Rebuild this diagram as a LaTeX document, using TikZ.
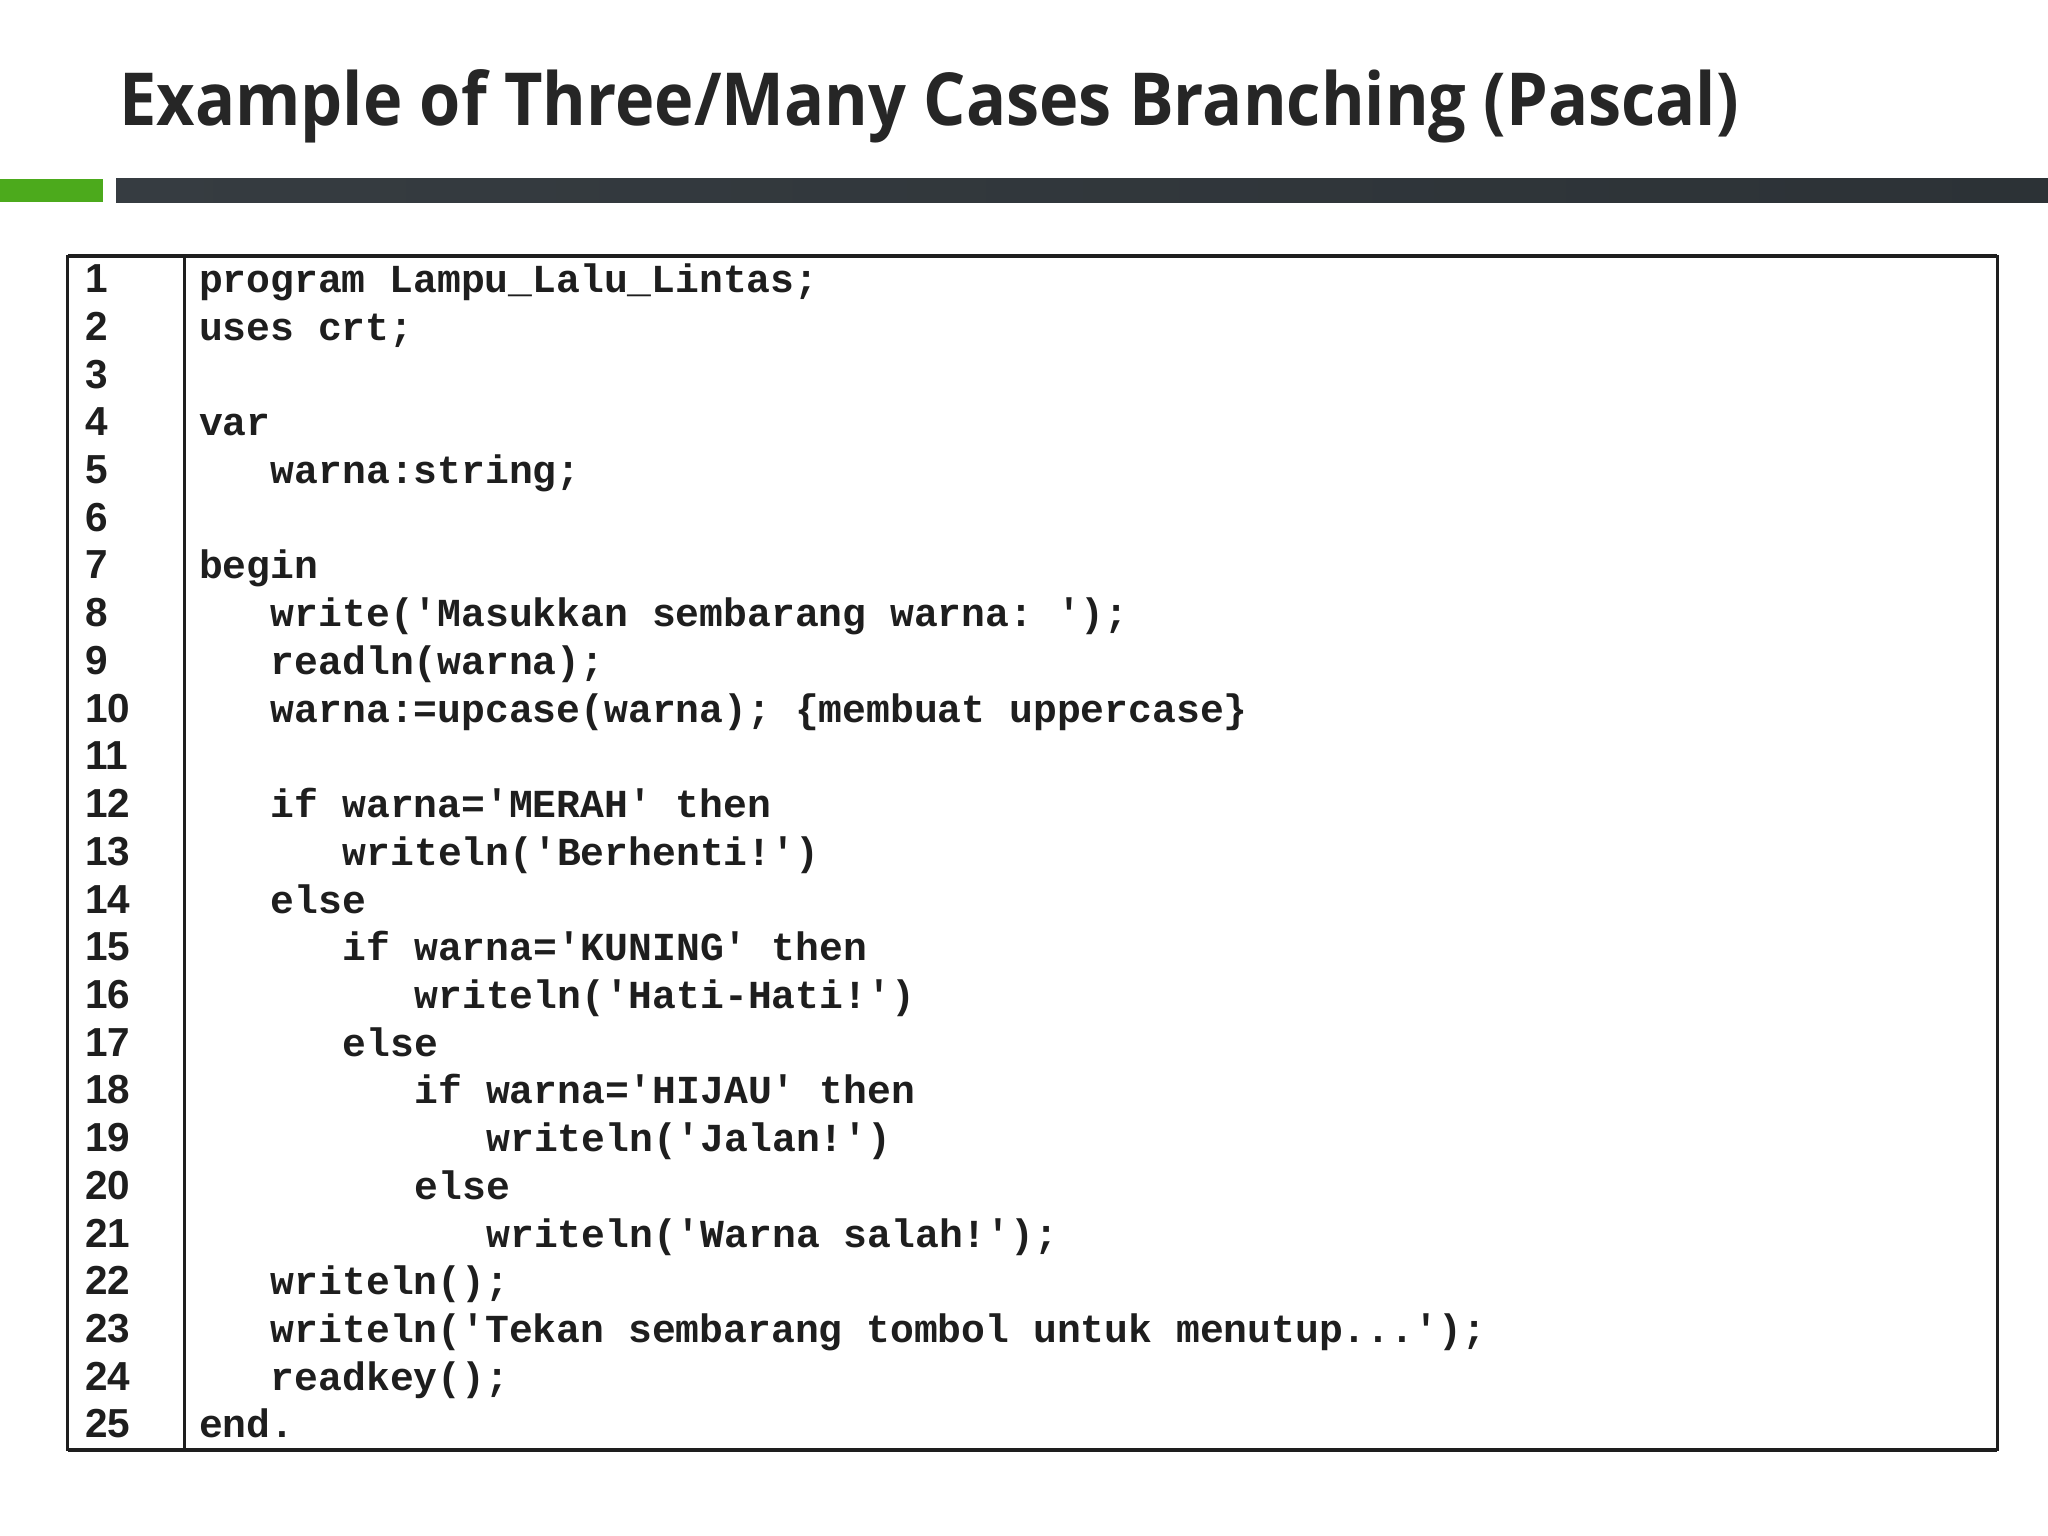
\documentclass[tikz,border=0pt]{standalone}
\usepackage{fontspec}
\setmonofont{Liberation Mono}[BoldFont={Liberation Mono Bold}]
\newfontfamily\titlefont{Open Sans}
\newfontfamily\numfont{Liberation Sans}[BoldFont={Liberation Sans Bold}]
\definecolor{titlegray}{HTML}{262626}
\definecolor{bargreen}{HTML}{4CAA1C}
\definecolor{bardark}{HTML}{363C41}
\definecolor{bardarkb}{HTML}{2C3236}
\definecolor{codeblack}{HTML}{1E1E1E}
\tikzset{
  codeline/.style={anchor=base west, inner sep=0pt, font=\ttfamily\bfseries\fontsize{15.2pt}{18pt}\selectfont, text=codeblack},
  numline/.style={anchor=base west, inner sep=0pt, font=\numfont\bfseries\fontsize{15.5pt}{18pt}\selectfont, text=codeblack},
  frameline/.style={draw=codeblack, line width=1.1pt},
  frameedge/.style={draw=codeblack, line width=1.6pt}
}
\begin{document}
\begin{tikzpicture}[x=0.5pt,y=-0.5pt]
\useasboundingbox[fill=white] (0,0) rectangle (1568,1176);
% title
\node[anchor=base west, inner sep=0pt, text=titlegray, font=\titlefont\bfseries\fontsize{28pt}{32pt}\selectfont] (title) at (91,96) {\resizebox{620pt}{\height}{Example of Three/Many Cases Branching (Pascal)}};
% bars
\fill[bargreen] (0,137) rectangle (79,155);
\shade[left color=bardark, right color=bardarkb] (89,137) rectangle (1568,155);
% frame
\draw[frameline] (52,196) rectangle (1529,1110);
\draw[frameedge] (52,196) -- (1529,196);
\draw[frameedge] (52,1110) -- (1529,1110);
\draw[frameline] (141,196) -- (141,1110);
% line numbers and code
\def\base{224}
\def\pitch{36.54}
\foreach \n in {1,...,25}{
  \node[numline] (n\n) at (65,{\base+(\n-1)*\pitch}) {\n};
}
\node[codeline] (c1) at (152,\base) {program Lampu\_Lalu\_Lintas;};
\node[codeline] (c2) at (152,{\base+1*\pitch}) {uses crt;};
\node[codeline] (c4) at (152,{\base+3*\pitch}) {var};
\node[codeline] (c5) at (207,{\base+4*\pitch}) {warna:string;};
\node[codeline] (c7) at (152,{\base+6*\pitch}) {begin};
\node[codeline] (c8) at (207,{\base+7*\pitch}) {write('Masukkan sembarang warna: ');};
\node[codeline] (c9) at (207,{\base+8*\pitch}) {readln(warna);};
\node[codeline] (c10) at (207,{\base+9*\pitch}) {warna:=upcase(warna); \{membuat uppercase\}};
\node[codeline] (c12) at (207,{\base+11*\pitch}) {if warna='MERAH' then};
\node[codeline] (c13) at (262,{\base+12*\pitch}) {writeln('Berhenti!')};
\node[codeline] (c14) at (207,{\base+13*\pitch}) {else};
\node[codeline] (c15) at (262,{\base+14*\pitch}) {if warna='KUNING' then};
\node[codeline] (c16) at (317,{\base+15*\pitch}) {writeln('Hati-Hati!')};
\node[codeline] (c17) at (262,{\base+16*\pitch}) {else};
\node[codeline] (c18) at (317,{\base+17*\pitch}) {if warna='HIJAU' then};
\node[codeline] (c19) at (372,{\base+18*\pitch}) {writeln('Jalan!')};
\node[codeline] (c20) at (317,{\base+19*\pitch}) {else};
\node[codeline] (c21) at (372,{\base+20*\pitch}) {writeln('Warna salah!');};
\node[codeline] (c22) at (207,{\base+21*\pitch}) {writeln();};
\node[codeline] (c23) at (207,{\base+22*\pitch}) {writeln('Tekan sembarang tombol untuk menutup...');};
\node[codeline] (c24) at (207,{\base+23*\pitch}) {readkey();};
\node[codeline] (c25) at (152,{\base+24*\pitch}) {end.};
\end{tikzpicture}
\end{document}
